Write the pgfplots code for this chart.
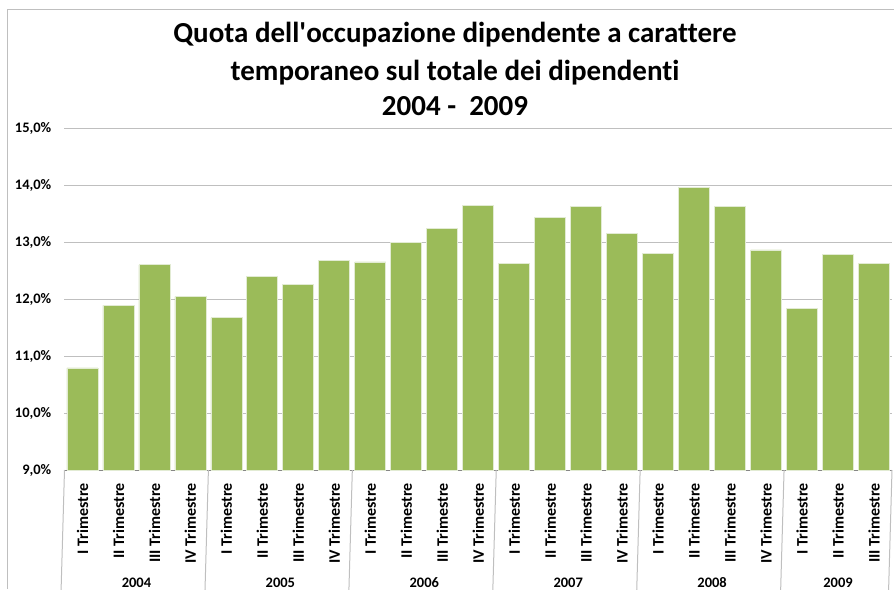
\documentclass[border=0pt]{standalone}
\usepackage{pgfplots}
\pgfplotsset{compat=1.18}
\usepackage{fontspec}
\setmainfont{Carlito}[Ligatures={NoCommon}]
\definecolor{bargreen}{HTML}{9BBB59}
\definecolor{baredge}{HTML}{E2EBD3}
\definecolor{gridgray}{HTML}{BFBFBF}
\definecolor{axisgray}{HTML}{868686}
\begin{document}
\begin{tikzpicture}[x=1pt,y=1pt]
\useasboundingbox (0,0) rectangle (894,589);
\draw[gridgray,line width=1pt] (7,0) -- (7,579) -- (894,579);
\node[font=\bfseries\fontsize{29}{34}\selectfont,anchor=base] at (455,546) {Quota dell\textquotesingle occupazione dipendente a carattere};
\node[font=\bfseries\fontsize{29}{34}\selectfont,anchor=base] at (455,508.5) {temporaneo sul totale dei dipendenti};
\node[font=\bfseries\fontsize{29}{34}\selectfont,anchor=base] at (455,473) {2004 -\ \ 2009};
\begin{axis}[
  at={(64.5pt,119pt)}, anchor=south west,
  scale only axis, width=827.5pt, height=342pt,
  xmin=0.5, xmax=23.5, ymin=9, ymax=15,
  ytick={9,10,11,12,13,14,15}, yticklabels={},
  xtick={1,...,23}, xticklabels={},
  tick style={draw=none},
  ymajorgrids, grid style={gridgray, line width=1pt},
  axis x line*=bottom, axis y line*=left,
  x axis line style={axisgray, line width=1pt, -},
  y axis line style={draw=none},
  clip=false,
  ybar, bar width=31pt,
]
\addplot[fill=bargreen, draw=baredge, line width=0.8pt] coordinates {
(1,10.79) (2,11.89) (3,12.60) (4,12.04)
(5,11.67) (6,12.40) (7,12.25) (8,12.68)
(9,12.65) (10,13.00) (11,13.23) (12,13.64)
(13,12.62) (14,13.43) (15,13.62) (16,13.15)
(17,12.80) (18,13.96) (19,13.62) (20,12.86)
(21,11.84) (22,12.78) (23,12.62)
};
\foreach \v in {9,10,11,12,13,14,15}{
  \edef\tmp{\noexpand\node[font=\noexpand\bfseries\noexpand\fontsize{14.5}{17}\noexpand\selectfont,anchor=east,inner sep=0pt] at ([xshift=-13pt]axis cs:0.5,\v) {\v,0\noexpand\%};}\tmp
}
\foreach \i/\q in {1/I,2/II,3/III,4/IV,5/I,6/II,7/III,8/IV,9/I,10/II,11/III,12/IV,13/I,14/II,15/III,16/IV,17/I,18/II,19/III,20/IV,21/I,22/II,23/III}{
  \edef\tmp{\noexpand\node[font=\noexpand\bfseries\noexpand\fontsize{16}{19}\noexpand\selectfont,rotate=90,anchor=east,inner sep=0pt] at ([yshift=-13pt]axis cs:\i,9) {\q\space Trimestre};}\tmp
}
\foreach \s in {0.5,4.5,8.5,12.5,16.5,20.5,23.5}{
  \edef\tmp{\noexpand\draw[gridgray,line width=1pt] (axis cs:\s,9) -- ++(0,-119pt);}\tmp
}
\foreach \c/\y in {2.5/2004,6.5/2005,10.5/2006,14.5/2007,18.5/2008,22/2009}{
  \edef\tmp{\noexpand\node[font=\noexpand\bfseries\noexpand\fontsize{14.5}{17}\noexpand\selectfont,anchor=base,inner sep=0pt] at (axis cs:\c,9) [yshift=-117pt] {\y};}\tmp
}
\end{axis}
\end{tikzpicture}
\end{document}
